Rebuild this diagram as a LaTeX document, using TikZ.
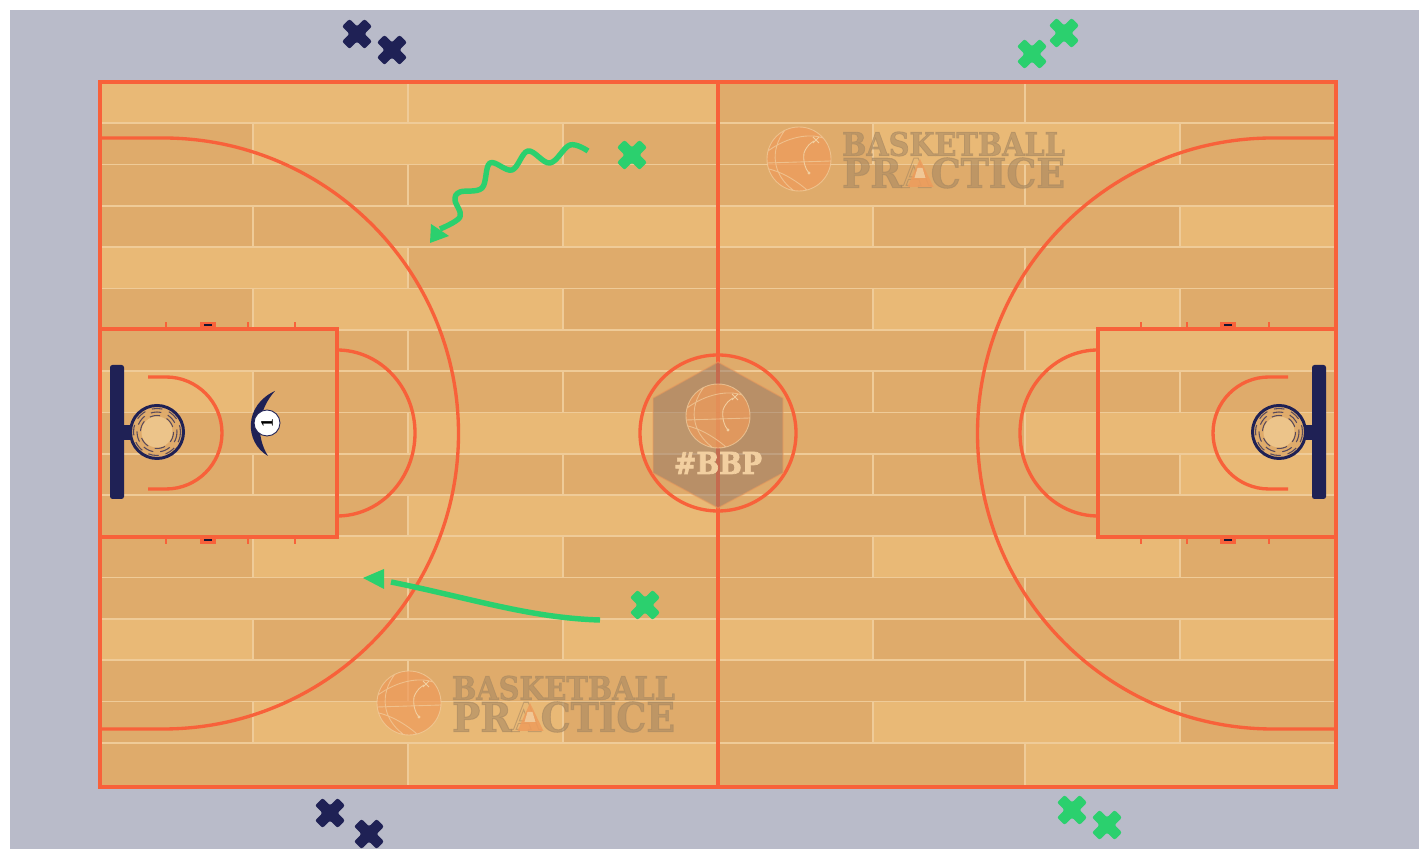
\documentclass[tikz,border=0pt]{standalone}
\usepackage{graphicx}
\usepackage{fontspec}
\usepackage{xcolor}
\usetikzlibrary{calc}
\newfontfamily\slabfont[BoldFont={DejaVu Serif Bold}, BoldFeatures={FakeBold=2.5}]{DejaVu Serif}
\newfontfamily\numfont{Liberation Serif}
\definecolor{floorGray}{HTML}{B9BBC9}
\definecolor{plankLight}{HTML}{E9B976}
\definecolor{plankDark}{HTML}{DFAB6B}
\definecolor{plankSeam}{HTML}{EFCB98}
\definecolor{courtLine}{HTML}{F8613A}
\definecolor{teamNavy}{HTML}{1F2155}
\definecolor{teamGreen}{HTML}{2BD06E}
\definecolor{logoBrown}{HTML}{A88962}
\definecolor{logoBall}{HTML}{EE9C5C}
\definecolor{logoPale}{HTML}{F2CFA0}
\definecolor{hexBrown}{HTML}{937565}

\tikzset{
  seam/.style={draw=plankSeam, line width=0.5pt},
  courtline/.style={draw=courtLine, line width=0.95pt},
  tickline/.style={draw=courtLine, line width=0.7pt},
  moveline/.style={draw=teamGreen, line width=1.55pt},
  tipfill/.style={fill=teamGreen},
  crossmark/.pic={
    \fill[rounded corners=0.6pt] (-15,-7.5) -- (-7.5,-15) -- (0,-7.5) -- (7.5,-15) -- (15,-7.5) -- (7.5,0)
      -- (15,7.5) -- (7.5,15) -- (0,7.5) -- (-7.5,15) -- (-15,7.5) -- (-7.5,0) -- cycle;
  },
  ballmark/.pic={
    \fill[logoBall, opacity=.75] (0,0) circle[radius=32];
    \draw[logoPale, line width=.25pt, opacity=.7] (0,0) circle[radius=32]
      (-14,-29) .. controls (-30,-8) and (-26,16) .. (-6,31)
      (-31,-8) .. controls (-12,-22) and (10,-26) .. (24,-21)
      (-32,4) -- (32,2)
      (-30,10) .. controls (-14,14) and (0,24) .. (8,31);
    \draw[logoPale, line width=.25pt] (5,-6) .. controls (8,-14) and (12,-16) .. (15,-18)
      (5,-6) .. controls (4,2) and (6,10) .. (10,14);
    \fill[logoPale] (10,14) circle[radius=1.6];
    \draw[logoPale, line width=.25pt] (14,-22) -- (20,-16) (20,-22) -- (14,-16);
  },
  wordmark/.pic={
    \pic at (0,0) {ballmark};
    \node[text=logoBrown, opacity=.6, inner sep=0] (word) at (154.5,-15)
      {\resizebox{22.3mm}{2.4mm}{\slabfont\bfseries BASKETBALL}};
    \node[text=logoBrown, opacity=.6, inner sep=0] (title) at (154.5,14)
      {\resizebox{22.3mm}{3mm}{\slabfont\bfseries PR\pgfsetfillopacity{0}A\pgfsetfillopacity{.6}CTICE}};
    \fill[logoBall, opacity=.85] (121,0) -- (108.5,28) -- (134.5,28) -- cycle;
    \fill[logoPale, opacity=.85] (118.5,9) -- (123.5,9) -- (126.5,19) -- (115.5,19) -- cycle;
  }
}

\begin{document}
\begin{tikzpicture}[x=0.1mm, y=-0.1mm]
  \useasboundingbox (0,0) rectangle (1419,849);
  \fill[white] (0,0) rectangle (1419,849);
  \fill[floorGray] (10,10) rectangle (1419,849);

  % planks
  \fill[plankDark] (100,82) rectangle (1336,787);
  \foreach \xa/\xb/\row in {100/718/0, 253/563/1, 563/718/3, 100/408/4, 253/563/5, 100/253/7,
      408/718/8, 408/718/10, 253/563/11, 100/253/13, 563/718/13, 253/563/15, 408/718/16,
      873/1180/1, 718/873/3, 1180/1336/3, 873/1180/5, 1025/1336/6, 1025/1336/8, 1180/1336/9,
      873/1180/11, 718/873/13, 1180/1336/13, 873/1180/15, 1025/1336/16}
    \fill[plankLight] (\xa,{82+41.3*\row}) rectangle (\xb,{\row==16 ? 787 : 82+41.3*(\row+1)});
  \foreach \row in {0,...,16}{
    \pgfmathsetmacro{\ytop}{82+41.3*\row}
    \pgfmathsetmacro{\ybot}{\row==16 ? 787 : 82+41.3*(\row+1)}
    \draw[seam] (100,\ybot) -- (1336,\ybot);
    \ifodd\row
      \foreach \xs in {253,563,873,1180} \draw[seam] (\xs,\ytop) -- (\xs,\ybot);
    \else
      \foreach \xs in {408,1025} \draw[seam] (\xs,\ytop) -- (\xs,\ybot);
    \fi
  }

  % logos
  \pic at (799,159) {wordmark};
  \pic at (409,703) {wordmark};

  % court lines
  \draw[courtline] (100,82) rectangle (1336,787);
  \draw[courtline] (718,82) -- (718,787);
  \draw[courtline] (718,433) circle[radius=78];
  \draw[courtline] (100,329) rectangle (337,537);
  \draw[courtline] (1098,329) rectangle (1336,537);
  \draw[courtline] (100,138) -- (163,138) arc[start angle=-90, end angle=90, radius=295.5] -- (100,729);
  \draw[courtline] (1336,138) -- (1273,138) arc[start angle=-90, end angle=-270, radius=295.5] -- (1336,729);
  \draw[courtline] (337,350) arc[start angle=-90, end angle=90, x radius=78, y radius=83];
  \draw[courtline] (1098,350) arc[start angle=-90, end angle=-270, x radius=78, y radius=83];
  \draw[courtline] (148,377) -- (166,377) arc[start angle=-90, end angle=90, radius=56] -- (148,489);
  \draw[courtline] (1288,377) -- (1269,377) arc[start angle=-90, end angle=-270, radius=56] -- (1288,489);

  % lane marks
  \foreach \ya/\yb/\yc in {329/322/325.5, 537/544/540.5}{
    \foreach \xt in {166,248,295,1141,1187,1269} \draw[tickline] (\xt,\ya) -- (\xt,\yb);
    \foreach \xb in {200,1220}{
      \fill[courtLine] (\xb,\ya) rectangle (\xb+16,\yb);
      \fill[teamNavy!60!black] (\xb+4,\yc-1) rectangle (\xb+12,\yc+1);
    }
  }

  % hexagon mark
  \fill[hexBrown, opacity=.5] (718,362) -- (783,398) -- (783,473) -- (718,508) -- (653,473) -- (653,398) -- cycle;
  \draw[logoBall, opacity=.5, line width=.4pt] (718,362) -- (783,398) -- (783,473) -- (718,508) -- (653,473) -- (653,398) -- cycle;
  \pic at (718,416) {ballmark};
  \node[text=logoPale, inner sep=0] (hash) at (718,463) {\resizebox{8.8mm}{2.2mm}{\slabfont\bfseries\#BBP}};

  % backboards and rims
  \foreach \xb/\xs/\xh in {110/124/157, 1312/1312/1279}{
    \fill[teamNavy, rounded corners=0.7pt] (\xb,365) rectangle (\xb+14,499);
    \fill[teamNavy] (\xs,425) rectangle (\xh,440);
    \fill[plankDark] (\xh,432) circle[radius=27];
    \draw[teamNavy, line width=0.85pt] (\xh,432) circle[radius=26.5];
    \foreach \rad in {23.5,20,16.5}
      \draw[teamNavy!70!plankDark, line width=.3pt, densely dashed] (\xh,432) circle[radius=\rad];
    \fill[plankLight!85!white] (\xh,432) circle[radius=15.5];
  }

  % player one
  \fill[teamNavy] (275,391) .. controls (244,405) and (244,442) .. (268,456)
    .. controls (255,435) and (258,410) .. (275,391) -- cycle;
  \node[circle, draw=teamNavy, fill=white, line width=.25pt, minimum size=2.6mm, inner sep=0, rotate=90,
    font=\numfont\bfseries\fontsize{5}{5}\selectfont] (player) at (267,423) {1};

  % defenders
  \foreach \xc/\yc in {357/34, 392/50, 330/813, 369/834}
    \pic[teamNavy] at (\xc,\yc) {crossmark};
  \foreach \xc/\yc in {1064/33, 1032/54, 1072/810, 1107/825, 632/155, 645/605}
    \pic[teamGreen] at (\xc,\yc) {crossmark};

  % cuts
  \coordinate (dribbleEnd) at (440,229);
  \coordinate (passStart) at (600,620);
  \coordinate (passEnd) at (391,582);
  \draw[moveline, line join=round] plot[smooth, tension=.6] coordinates {(588,151) (570,145) (550,163) (528,151) (512,170)
    (490,163) (482,188) (460,192) (455,200) (460,217) (dribbleEnd)};
  \fill[tipfill] (430,243) -- (431,224) -- (449,236) -- cycle;
  \draw[moveline] (passStart) .. controls (530,618) and (470,598) .. (passEnd);
  \fill[tipfill] (363,578) -- (384,569) -- (384,589) -- cycle;
\end{tikzpicture}
\end{document}
